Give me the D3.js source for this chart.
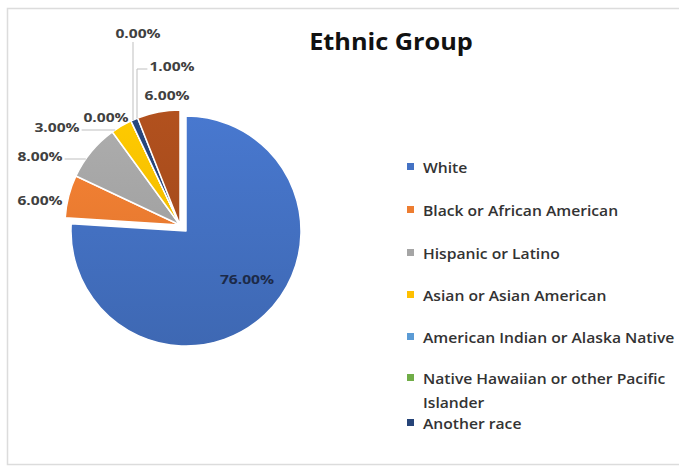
<!DOCTYPE html>
<html>
<head>
<meta charset="utf-8">
<script src="https://cdn.jsdelivr.net/npm/d3@7"></script>
<style>
  html, body { margin: 0; padding: 0; background: #ffffff; }
  svg { display: block; }
  text { font-family: "Open Sans", Lato, sans-serif; }
</style>
</head>
<body>
<svg id="chart" width="679" height="470"></svg>
<script>
// Ethnic group shares, in percent, drawn clockwise from twelve o'clock
const categories = [
  "White",
  "Black or African American",
  "Hispanic or Latino",
  "Asian or Asian American",
  "American Indian or Alaska Native",
  "Native Hawaiian or other Pacific Islander",
  "Another race",
  "Two or more races"
];
const values = [76, 6, 8, 3, 0, 0, 1, 6];
const colors = ["#4472C4", "#ED7D31", "#A5A5A5", "#FFC000", "#5B9BD5", "#70AD47", "#264478", "#A94D1C"];
const legendLines = [
  ["White"],
  ["Black or African American"],
  ["Hispanic or Latino"],
  ["Asian or Asian American"],
  ["American Indian or Alaska Native"],
  ["Native Hawaiian or other Pacific", "Islander"],
  ["Another race"]
];
const title = "Ethnic Group";

const svg = d3.select("#chart");
const W = 679, H = 470;

// horizontal stretch used for the text, which is set slightly wide
const titleStretch = 1.1, labelStretch = 1.2, legendStretch = 1.08;

// chart frame
svg.append("rect")
  .attr("x", 7.5).attr("y", 8.5)
  .attr("width", W + 10).attr("height", 456)
  .attr("fill", "#ffffff")
  .attr("stroke", "#dcdcdc").attr("stroke-width", 1.5);

// title
svg.append("text")
  .attr("transform", `translate(391,50) scale(${titleStretch},1)`)
  .attr("text-anchor", "middle")
  .attr("font-size", 23).attr("font-weight", 700)
  .attr("fill", "#111111")
  .text(title);

// pie geometry
const cx = 186, cy = 231, R = 115;
const explode = [-6, -6]; // shift applied to every slice after the first

const pie = d3.pie().sort(null).value(d => d)
  .startAngle(0).endAngle(2 * Math.PI);
const arcs = pie(values);
const arc = d3.arc().innerRadius(0).outerRadius(R);

// soft vertical shading for each slice colour
const defs = svg.append("defs");
colors.forEach((c, i) => {
  const g = defs.append("linearGradient")
    .attr("id", "grad" + i)
    .attr("gradientUnits", "userSpaceOnUse")
    .attr("x1", 0).attr("y1", -R).attr("x2", 0).attr("y2", R);
  g.append("stop").attr("offset", "0%").attr("stop-color", d3.color(c).brighter(0.15));
  g.append("stop").attr("offset", "100%").attr("stop-color", d3.color(c).darker(0.25));
});

const pieG = svg.append("g").attr("transform", `translate(${cx},${cy})`);

pieG.selectAll("path.slice")
  .data(arcs)
  .join("path")
  .attr("class", "slice")
  .attr("transform", (d, i) => i === 0 ? null : `translate(${explode[0]},${explode[1]})`)
  .attr("d", arc)
  .attr("fill", (d, i) => `url(#grad${i})`)
  .attr("stroke", "#ffffff")
  .attr("stroke-width", 1.5)
  .attr("stroke-linejoin", "round");

// data labels: offset of each label centre from the exploded pie centre
const ex = cx + explode[0], ey = cy + explode[1];
const labelPos = [
  [61 + 6, 48 + 6],
  [-140, -25],
  [-140, -69],
  [-123, -98],
  [-74, -108],
  [-42, -192],
  [-8, -159],
  [-13, -130]
];
// leader line style per label: none, horizontal to the rim, straight down, or an elbow down to the rim
const leaderKind = [null, null, "h", "h", null, "v", "elbow", null];
const leaderX = [0, 0, 0, 0, 0, -47, -43, 0];

const fmt = d3.format(".2f");
const labelFont = 13;

const labG = svg.append("g");
arcs.forEach((d, i) => {
  const lx = ex + labelPos[i][0], ly = ey + labelPos[i][1];
  const t = labG.append("text")
    .attr("transform", `translate(${lx},${ly}) scale(${labelStretch},1)`)
    .attr("text-anchor", "middle")
    .attr("dominant-baseline", "central")
    .attr("font-size", labelFont).attr("font-weight", 700)
    .attr("fill", i === 0 ? "#1c2a48" : "#404040")
    .text(fmt(values[i]) + "%");
  const w = t.node().getComputedTextLength() * labelStretch;
  const kind = leaderKind[i];
  if (!kind) return;
  let pts;
  if (kind === "h") {
    const y = ly + 3;
    const xr = ex - Math.sqrt(R * R - (y - ey) * (y - ey));
    pts = [[lx + w / 2 + 2, y], [xr, y]];
  } else if (kind === "v") {
    const x = ex + leaderX[i];
    const yr = ey - Math.sqrt(R * R - (x - ex) * (x - ex));
    pts = [[x, ly + 9], [x, yr]];
  } else {
    const x = ex + leaderX[i];
    const yr = ey - Math.sqrt(R * R - (x - ex) * (x - ex));
    pts = [[lx - w / 2 - 2, ly + 3], [x, ly + 3], [x, yr]];
  }
  labG.insert("path", ":first-child")
    .attr("d", d3.line()(pts))
    .attr("fill", "none")
    .attr("stroke", "#bfbfbf")
    .attr("stroke-width", 1);
});

// legend
const legendX = 407, legendY = [167, 210, 253, 295, 337, 378, 423];
const legendFont = 14.5;
const legG = svg.append("g");
legendLines.forEach((lines, i) => {
  const y = legendY[i];
  legG.append("rect")
    .attr("x", legendX).attr("y", y - 4)
    .attr("width", 7).attr("height", 7)
    .attr("fill", colors[i]);
  lines.forEach((line, j) => {
    legG.append("text")
      .attr("transform", `translate(${legendX + 16},${y + j * 24}) scale(${legendStretch},1)`)
      .attr("dominant-baseline", "central")
      .attr("font-size", legendFont)
      .attr("font-weight", 600)
      .attr("fill", "#333333")
      .text(line);
  });
});
</script>
</body>
</html>
